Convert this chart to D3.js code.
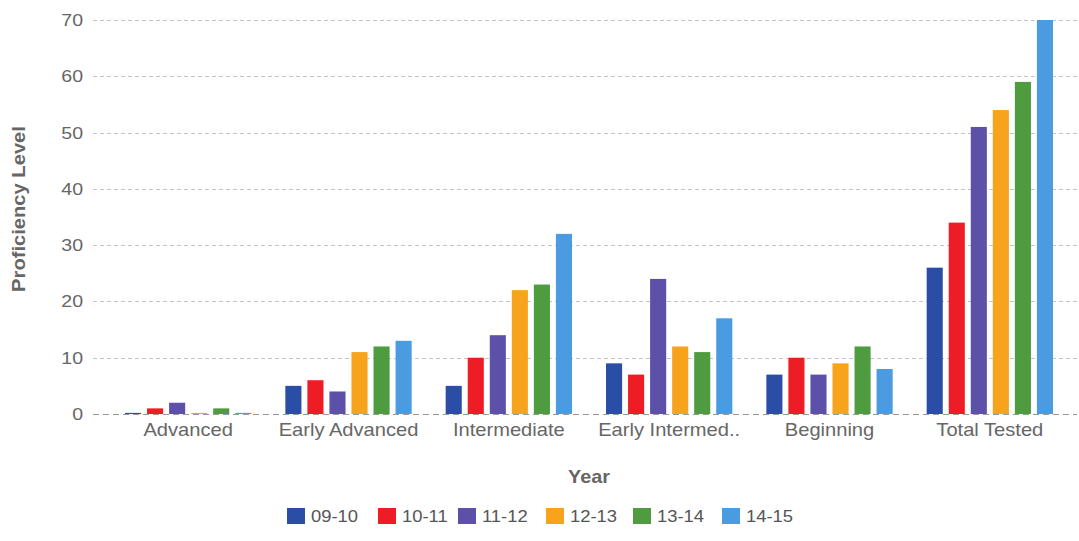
<!DOCTYPE html>
<html>
<head>
<meta charset="utf-8">
<script src="https://cdn.jsdelivr.net/npm/d3@7/dist/d3.min.js"></script>
<style>
  html, body { margin: 0; padding: 0; background: #fff; }
  svg { display: block; font-family: "Liberation Sans", Arial, sans-serif; }
</style>
</head>
<body>
<svg id="chart" width="1079" height="541"></svg>
<script>
// Proficiency level counts per year, grouped by level
const categories = ["Advanced", "Early Advanced", "Intermediate", "Early Intermed..", "Beginning", "Total Tested"];
const years = ["09-10", "10-11", "11-12", "12-13", "13-14", "14-15"];
const colors = ["#2a4ea6", "#ee1d25", "#5c50a8", "#f7a31c", "#4f9b40", "#4b9be0"];

const values0910 = [0.2, 5, 5, 9, 7, 26];
const values1011 = [1, 6, 10, 7, 10, 34];
const values1112 = [2, 4, 14, 24, 7, 51];
const values1213 = [0.2, 11, 22, 12, 9, 54];
const values1314 = [1, 12, 23, 11, 12, 59];
const values1415 = [0.2, 13, 32, 17, 8, 70];
const seriesValues = [values0910, values1011, values1112, values1213, values1314, values1415];

const yTicks = [0, 10, 20, 30, 40, 50, 60, 70];

// Text is drawn slightly wide
const stretch = 1.15;

const svg = d3.select("#chart");

const plotLeft = 93, plotRight = 1077, plotTop = 20, plotBottom = 414;

const y = d3.scaleLinear().domain([0, 70]).range([plotBottom, plotTop]);

const x0 = d3.scaleBand()
  .domain(categories)
  .range([108, 1070])
  .paddingInner(0.175)
  .paddingOuter(0.0875);

const x1 = d3.scaleBand()
  .domain(years)
  .range([0, x0.bandwidth()])
  .paddingInner(0.27)
  .paddingOuter(0.135);

// Horizontal dashed gridlines
svg.append("g")
  .selectAll("line")
  .data(yTicks)
  .join("line")
  .attr("x1", plotLeft)
  .attr("x2", plotRight)
  .attr("y1", d => Math.round(y(d)) + 0.5)
  .attr("y2", d => Math.round(y(d)) + 0.5)
  .attr("stroke", d => d === 0 ? "#999" : "#c4c4c4")
  .attr("stroke-width", 1)
  .attr("stroke-dasharray", d => d === 0 ? "6,4" : "4,3");

// Y axis tick labels
const yAxis = d3.axisLeft(y).tickValues(yTicks).tickSize(0).tickPadding(0);
const gy = svg.append("g")
  .attr("transform", `translate(83,0)`)
  .call(yAxis);
gy.select(".domain").remove();
gy.selectAll("text")
  .attr("fill", "#666")
  .attr("font-size", "17px")
  .attr("font-family", "Liberation Sans, Arial, sans-serif")
  .attr("transform", `scale(${stretch},1)`);

// Bars
const groups = svg.append("g")
  .selectAll("g")
  .data(categories)
  .join("g")
  .attr("transform", d => `translate(${x0(d)},0)`);

groups.selectAll("rect")
  .data((c, ci) => years.map((yr, si) => ({ year: yr, value: seriesValues[si][ci], color: colors[si] })))
  .join("rect")
  .attr("x", d => x1(d.year))
  .attr("width", x1.bandwidth())
  .attr("y", d => y(d.value))
  .attr("height", d => plotBottom - y(d.value))
  .attr("fill", d => d.color);

// X axis category labels
const xAxis = d3.axisBottom(x0).tickSize(0).tickPadding(0);
const gx = svg.append("g")
  .attr("transform", `translate(0,${plotBottom + 9})`)
  .call(xAxis);
gx.select(".domain").remove();
gx.selectAll("text")
  .attr("fill", "#666")
  .attr("font-size", "17.5px")
  .attr("font-family", "Liberation Sans, Arial, sans-serif")
  .attr("dy", "0.75em")
  .attr("transform", `scale(${stretch},1)`);

// Axis titles
svg.append("text")
  .attr("transform", `translate(589,483) scale(1.1,1)`)
  .attr("text-anchor", "middle")
  .attr("font-size", "18px")
  .attr("font-weight", "bold")
  .attr("fill", "#666")
  .text("Year");

svg.append("text")
  .attr("transform", "translate(25,209) rotate(-90) scale(1.12,1)")
  .attr("text-anchor", "middle")
  .attr("font-size", "18px")
  .attr("font-weight", "bold")
  .attr("fill", "#666")
  .text("Proficiency Level");

// Legend
const legendX = [287, 378, 458, 546, 633, 722];
const legend = svg.append("g")
  .selectAll("g")
  .data(years)
  .join("g")
  .attr("transform", (d, i) => `translate(${legendX[i]},508)`);

legend.append("rect")
  .attr("width", 18)
  .attr("height", 16)
  .attr("fill", (d, i) => colors[i]);

legend.append("text")
  .attr("transform", `translate(24,14) scale(${stretch},1)`)
  .attr("font-size", "16px")
  .attr("fill", "#555")
  .text(d => d);
</script>
</body>
</html>
